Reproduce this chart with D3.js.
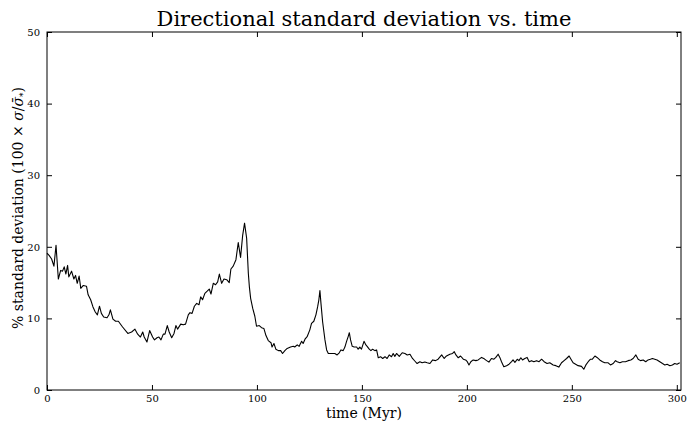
<!DOCTYPE html>
<html><head><meta charset="utf-8">
<script src="https://cdn.jsdelivr.net/npm/d3@7"></script>
<style>body{margin:0;background:#fff}svg{display:block}</style>
</head><body>
<svg id="c" width="687" height="424"></svg>
<script>
const times = [0,1,2.2,3.3,4.3,5.4,6.5,7.4,8.2,9,9.8,10.4,11.7,12.8,13.6,14.4,15.3,16.1,17.3,18.8,19.6,20.8,21.9,23,24,25,25.9,27,28.6,29.5,30.2,31.4,32.7,34,36,38.5,40.3,41.9,43.2,44.5,45.6,46.3,47.6,48.9,50.3,51.2,52.4,53.3,54.3,55.4,56.2,57.3,58.2,59.4,60.5,61.4,62.2,63.7,64.9,66,67.3,68.1,69.1,70.2,71.3,72.4,73.2,74.1,75.2,76.3,77.3,78.1,79.2,80.3,81.3,82.1,83.2,84.3,85.6,86.8,87.6,88.7,90,91.1,92.2,93.2,94.1,95.1,95.9,96.4,97,98,99,99.8,101.1,102.2,103.3,104.3,105.4,106.7,107.2,108.1,109,110.2,111.3,112.2,113.3,114.4,116,117.3,118,119.2,120.1,121.3,122,122.9,124,125.2,126,127.1,128.1,128.9,129.5,130,130.5,131.3,132.4,133.2,134,135.6,137.1,138.2,139.2,140,141.1,141.9,142.7,143.5,144,144.6,145.4,146.3,147.5,148.2,149,149.8,151,151.9,152.5,153.5,154.3,155.1,156.2,157,157.8,158.9,159.9,161,162,163,164.1,164.9,165.7,166.5,167.8,169.2,170.5,171.6,172.9,174.1,175.2,176.3,177.6,178.7,180,181.1,182.4,183.7,185.1,186.3,188,189.2,190.3,191.9,193.2,194,194.8,195.9,197,198.3,199.4,200.2,201,201.9,203,204.3,205.4,207,208.3,209.4,210.5,211.7,212.9,213.8,214.9,215.7,216.5,217.6,218.9,220.1,221.3,222,222.9,224,224.8,225.7,226.5,227.6,228.7,229.7,230.8,231.9,233.2,234.4,235.6,236.8,238.2,239.5,241.1,242.4,243.8,245.1,246.3,247.5,248.7,249.8,250.6,251.8,253,254.6,255.7,256.7,257.8,258.9,259.8,261,262,263.3,264.6,265.7,267.3,268.4,269.7,270.8,271.6,272.9,274.1,275.6,276.8,278.1,279.2,280.5,281.6,282.7,284,285.2,286.3,287.4,288.4,289.5,290.6,291.9,293.2,294.3,295.4,296.7,297.9,299,300.1,301.4];
const values = [19.1,18.8,18.3,17.3,20.2,15.5,16.7,16.6,17.2,16.2,17.4,15.8,16.6,15.5,16,14.9,15.9,14.2,14.6,14.5,13.3,12.6,11.6,10.9,10.5,11.7,10.7,10.2,10.1,10.5,11.2,9.9,9.6,9.6,8.8,7.9,8.1,8.5,7.8,7.4,8.1,7.4,6.7,8.3,7.4,7.0,7.3,7.4,7.0,7.8,7.8,9.0,8.1,7.3,7.9,9.0,8.5,9.2,9.1,9.2,10.5,10.8,10.7,11.7,12.1,11.9,13.0,12.6,13.5,13.8,14.1,13.4,14.9,14.7,15.1,16.2,14.9,15.5,15.4,15.0,16.9,17.3,18.2,20.6,18.5,21.6,23.3,21.2,16.3,14.4,12.8,11.4,10.3,8.9,9.0,8.7,8.6,7.6,6.9,6.6,6.0,6.5,5.7,5.5,5.5,5.1,5.5,5.8,6.0,6.1,6.0,6.3,6.1,6.8,6.5,7.1,7.5,8.4,9.3,9.6,10.5,11.6,12.6,13.9,12.1,9.5,7.0,5.6,5.1,5.1,5.1,4.9,5.2,5.6,5.5,6.0,6.8,7.5,8.0,7.0,6.1,6.0,6.0,5.7,6.0,5.7,6.8,6.3,6.1,5.7,5.5,5.7,5.5,5.6,4.5,4.65,4.4,4.65,4.4,4.9,4.65,5.1,4.7,5.1,4.7,5.2,5.1,4.9,5.0,4.4,4.05,3.7,3.95,3.8,3.9,3.8,3.7,4.2,4.1,4.3,4.9,4.4,4.75,5.0,5.1,5.35,4.9,4.5,4.75,4.3,4.2,3.95,3.5,3.95,4.2,4.1,4.2,4.55,4.35,4.1,3.9,4.4,4.3,4.55,5.0,4.55,3.95,3.25,3.4,3.6,3.95,4.2,3.85,4.3,4.1,4.5,4.2,4.4,4.55,3.95,4.1,3.95,4.1,3.95,4.3,3.95,3.7,3.8,3.5,3.4,3.2,3.8,4.1,4.4,4.75,4.2,3.8,3.6,3.4,3.3,2.9,3.5,3.95,4.3,4.3,4.75,4.55,4.2,3.95,3.8,3.8,3.5,3.7,4.1,3.95,3.8,3.95,3.95,4.1,4.2,4.4,4.9,4.3,4.1,4.2,3.95,4.2,4.3,4.4,4.3,4.2,3.95,3.7,3.5,3.6,3.4,3.5,3.7,3.6,3.8];
const xTicks = [0,50,100,150,200,250,300];
const yTicks = [0,10,20,30,40,50];
const titleText = "Directional standard deviation vs. time";
const xLabel = "time (Myr)";

const L = 47, R = 681, T = 32, B = 390;
const svg = d3.select("#c");
const font = "'DejaVu Serif',serif";
const x = d3.scaleLinear().domain([0, 302]).range([L, R]);
const y = d3.scaleLinear().domain([0, 50]).range([B, T]);

const g = svg.append("g").attr("font-family", font);

// line
const data = times.map((t, i) => [t, values[i]]);
g.append("path").datum(data)
  .attr("fill", "none").attr("stroke", "#000").attr("stroke-width", 1.1)
  .attr("stroke-linejoin", "round")
  .attr("d", d3.line().x(d => x(d[0])).y(d => y(d[1])));

// axes with inward ticks
function styleAxis(sel, showText) {
  sel.select(".domain").remove();
  sel.selectAll(".tick line").attr("stroke", "#000").attr("stroke-width", 1);
  sel.selectAll("text").attr("font-family", font).attr("font-size", 10).attr("fill", "#000");
  if (!showText) sel.selectAll("text").remove();
}
const ax = g.append("g").attr("transform", `translate(0,${B})`)
  .call(d3.axisBottom(x).tickValues(xTicks).tickSizeInner(-5).tickSizeOuter(0).tickPadding(5));
styleAxis(ax, true);
const axT = g.append("g").attr("transform", `translate(0,${T})`)
  .call(d3.axisTop(x).tickValues(xTicks).tickSizeInner(-5).tickSizeOuter(0));
styleAxis(axT, false);
const ay = g.append("g").attr("transform", `translate(${L},0)`)
  .call(d3.axisLeft(y).tickValues(yTicks).tickSizeInner(-5).tickSizeOuter(0).tickPadding(7));
styleAxis(ay, true);
const ayR = g.append("g").attr("transform", `translate(${R},0)`)
  .call(d3.axisRight(y).tickValues(yTicks).tickSizeInner(-5).tickSizeOuter(0));
styleAxis(ayR, false);

// frame
g.append("rect").attr("x", L).attr("y", T).attr("width", R - L).attr("height", B - T)
  .attr("fill", "none").attr("stroke", "#000").attr("stroke-width", 1);

// title
g.append("text").attr("x", (L + R) / 2).attr("y", 26).attr("text-anchor", "middle")
  .attr("font-size", 21).text(titleText);

// x label
g.append("text").attr("x", (L + R) / 2).attr("y", 418).attr("text-anchor", "middle")
  .attr("font-size", 14).text(xLabel);

// y label
const yl = g.append("text").attr("transform", `translate(23,${(T + B) / 2 - 3}) rotate(-90)`)
  .attr("text-anchor", "middle").attr("font-size", 14);
yl.append("tspan").text("% standard deviation ");
yl.append("tspan").text("(100 × ");
yl.append("tspan").attr("font-style", "italic").text("σ");
yl.append("tspan").text("/");
yl.append("tspan").attr("font-style", "italic").text("σ\u0304");
yl.append("tspan").attr("font-size", 9).attr("dy", 3).attr("font-style", "italic").text("*");
yl.append("tspan").attr("dy", -3).text(")");
</script>
</body></html>
